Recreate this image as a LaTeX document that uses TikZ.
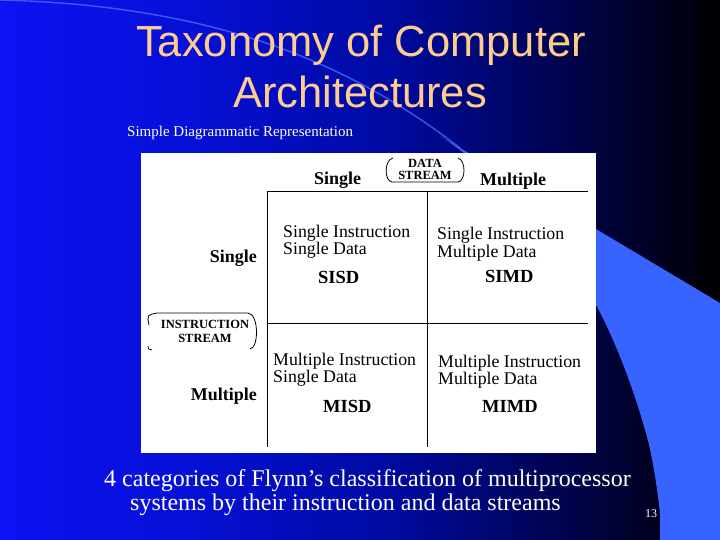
\documentclass[tikz,border=0pt]{standalone}
\usepackage{fontspec}
\setmainfont{Liberation Serif}
\newfontfamily\titlefont{Liberation Sans}
\definecolor{peach}{RGB}{252,204,144}
\definecolor{swoosh}{RGB}{55,100,255}
\definecolor{swooshline}{RGB}{70,110,255}
\definecolor{bgA}{RGB}{12,18,242}
\definecolor{bgB}{RGB}{6,16,215}
\definecolor{bgC}{RGB}{0,10,160}
\definecolor{bgD}{RGB}{0,4,85}
\definecolor{bgE}{RGB}{0,0,30}
\pgfdeclarehorizontalshading{slidebg}{100bp}{color(0bp)=(bgA); color(25bp)=(bgA); color(38bp)=(bgB); color(52bp)=(bgC); color(63bp)=(bgD); color(71bp)=(bgE); color(75bp)=(black); color(100bp)=(black)}
\newcommand{\twolines}[2]{\begin{tabular}[t]{@{}l@{}}#1\\#2\end{tabular}}
\newcommand{\twoctr}[2]{\begin{tabular}[t]{@{}c@{}}#1\\#2\end{tabular}}
\tikzset{
  title/.style={font=\titlefont\fontsize{43.5}{43.5}\selectfont, text=peach, inner sep=0pt, anchor=base},
  celltxt/.style={font=\fontsize{17.8}{16}\selectfont, text=black, inner sep=0pt, anchor=base west},
  codetxt/.style={font=\bfseries\fontsize{18.5}{18.5}\selectfont, text=black, inner sep=0pt, anchor=base west},
  headtxt/.style={font=\bfseries\fontsize{18}{18}\selectfont, text=black, inner sep=0pt},
  smalltxt/.style={font=\bfseries\fontsize{12.5}{12.5}\selectfont, text=black, inner sep=0pt, anchor=base},
  captxt/.style={font=\fontsize{24}{24}\selectfont, text=white, inner sep=0pt, anchor=base west},
  gridline/.style={draw=black, line width=1pt},
}
\begin{document}
\begin{tikzpicture}[x=1pt,y=-1pt]
\useasboundingbox (0,0) rectangle (720,540);
% background
\shade[shading=slidebg] (0,0) rectangle (720,540);
% swoosh
\fill[swoosh] (440,136) -- (720,303) -- (720,540) -- (660,540) -- (660,513)
  .. controls (655,470) and (650,445) .. (643,423)
  .. controls (635,395) and (622,360) .. (613,340)
  .. controls (605,322) and (600,312) .. (596,305)
  .. controls (560,240) and (500,175) .. (440,136) -- cycle;
\draw[swooshline, line width=1.4pt, opacity=0.8] (0,0) .. controls (200,5) and (340,55) .. (460,148);
% title
\node[title] (t1) at (361,57) {Taxonomy of Computer};
\node[title] (t2) at (360,108) {Architectures};
\node[font=\fontsize{15}{15}\selectfont, text=white, inner sep=0pt, anchor=base west] (sub) at (127,137) {Simple Diagrammatic Representation};
% white panel
\fill[white] (141,153) rectangle (596,453);
% grid
\coordinate (h1a) at (267,192); \coordinate (h1b) at (588,192);
\coordinate (h2a) at (267,323); \coordinate (h2b) at (588,323);
\coordinate (v1a) at (267,192); \coordinate (v1b) at (267,447);
\coordinate (v2a) at (427,192); \coordinate (v2b) at (427,447);
\draw[gridline] (h1a) -- (h1b);
\draw[gridline] (h2a) -- (h2b);
\draw[gridline] (v1a) -- (v1b);
\draw[gridline] (v2a) -- (v2b);
% headers
\node[headtxt, anchor=base west] (cs) at (314,185) {Single};
\node[headtxt, anchor=base west] (cm) at (480,186) {Multiple};
\node[headtxt, anchor=base east] (rs) at (257,262) {Single};
\node[headtxt, anchor=base east] (rm) at (257,400) {Multiple};
% data stream label
\node[smalltxt, font=\bfseries\fontsize{12.5}{12}\selectfont] (ds) at (425,168) {\twoctr{DATA}{STREAM}};
\draw[black, line width=0.8pt] (393,158) .. controls (384,160) and (384,181) .. (392,182) -- (458,182) .. controls (466,181) and (466,160) .. (458,158);
% instruction stream label
\node[smalltxt, font=\bfseries\fontsize{12.5}{14}\selectfont] (is) at (205,328) {\twoctr{INSTRUCTION}{STREAM}};
\draw[black, line width=0.8pt] (149,325) .. controls (147,315) .. (157,313) -- (248,313) .. controls (259,314) and (259,348) .. (250,349);
\draw[black, line width=0.8pt] (148,346) .. controls (148,349) .. (152,350);
% cells
\node[celltxt] (a1) at (283,237) {\twolines{Single Instruction}{Single Data}};
\node[codetxt] (a3) at (318,283) {SISD};
\node[celltxt] (b1) at (437,240) {\twolines{Single Instruction}{Multiple Data}};
\node[codetxt] (b3) at (485,282) {SIMD};
\node[celltxt] (c1) at (273,365) {\twolines{Multiple Instruction}{Single Data}};
\node[codetxt] (c3) at (323,412) {MISD};
\node[celltxt] (d1) at (438,367) {\twolines{Multiple Instruction}{Multiple Data}};
\node[codetxt] (d3) at (482,412) {MIMD};
% caption
\node[captxt, font=\fontsize{24}{24}\selectfont] (cap) at (104,486) {\begin{tabular}[t]{@{}l@{}}4 categories of Flynn’s classification of multiprocessor\\\hspace{26pt}systems by their instruction and data streams\end{tabular}};
\node[font=\fontsize{12}{12}\selectfont, text=white, inner sep=0pt, anchor=base west] (pg) at (645,517) {13};
\end{tikzpicture}
\end{document}
